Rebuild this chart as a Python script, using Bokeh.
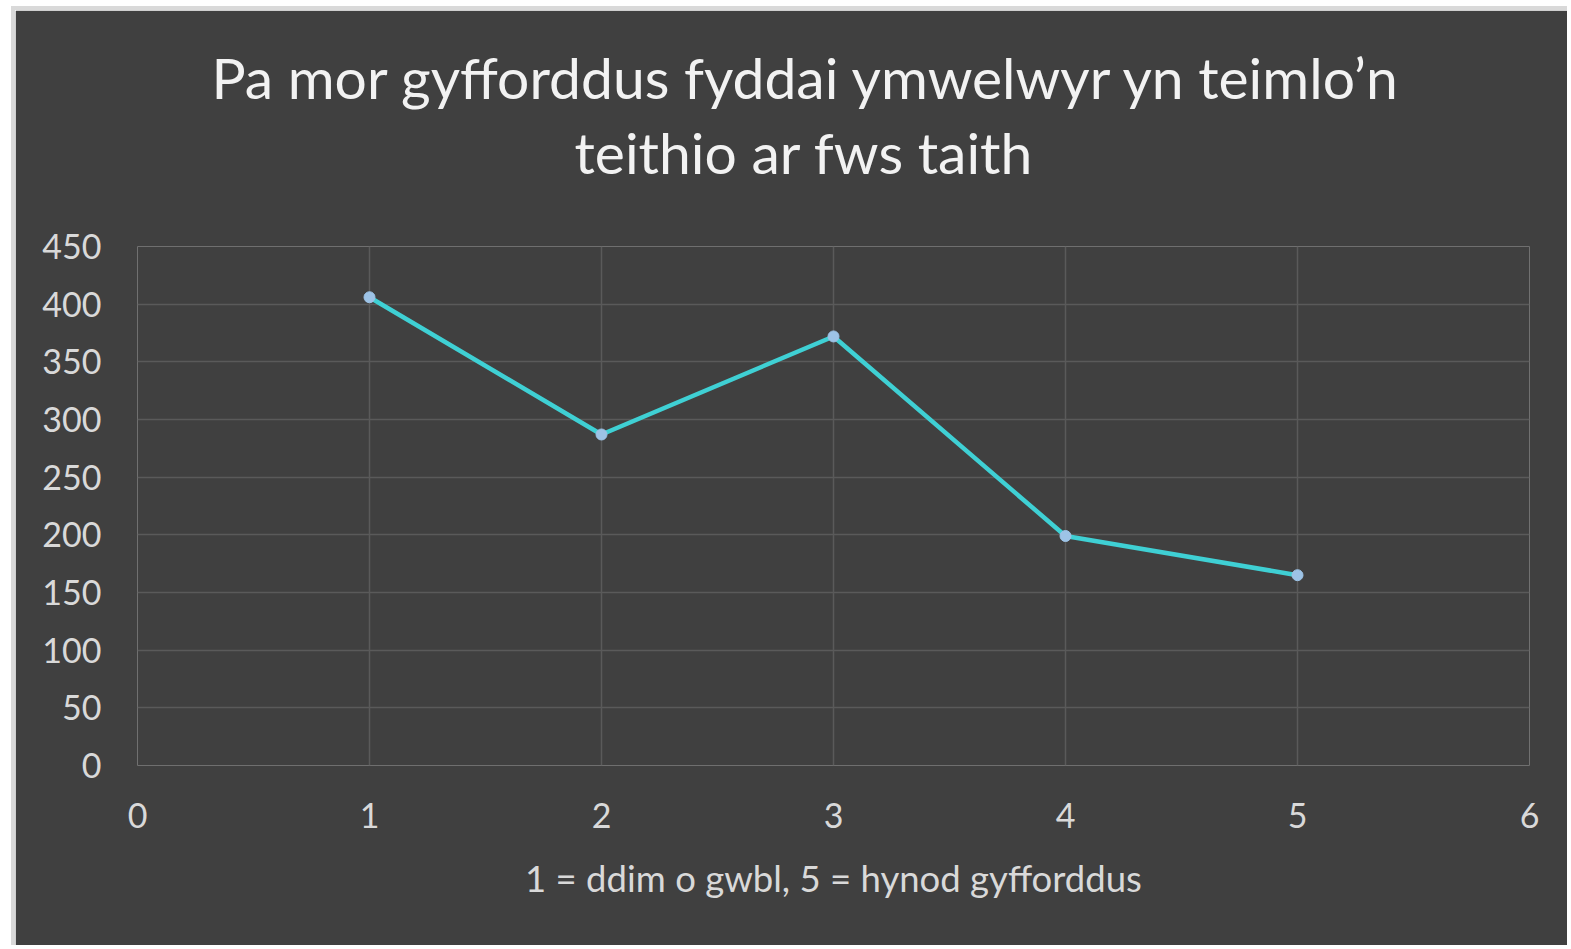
from bokeh.plotting import figure
from bokeh.models import Title, FixedTicker, Range1d
from bokeh.embed import file_html
from bokeh.resources import INLINE

# data
ratings = [1, 2, 3, 4, 5]
counts = [406, 287, 372, 199, 165]
x_ticks = [0, 1, 2, 3, 4, 5, 6]
y_ticks = [0, 50, 100, 150, 200, 250, 300, 350, 400, 450]
title_lines = ["Pa mor gyfforddus fyddai ymwelwyr yn teimlo\u2019n", "teithio ar fws taith"]
x_title = "1 = ddim o gwbl, 5 = hynod gyfforddus"

BG = "#404040"
GRID = "#5a5a5a"
TXT = "#d9d9d9"
FONT = "Lato"

p = figure(width=1556, height=939, output_backend="svg", toolbar_location=None,
           x_range=Range1d(0, 6), y_range=Range1d(0, 450),
           min_border_left=122, min_border_right=42, min_border_top=236, min_border_bottom=184)
p.styles = {"margin-left": "11px", "margin-top": "6px",
            "border-left": "4px solid #d9d9d9", "border-top": "4px solid #d9d9d9"}
p.background_fill_color = BG
p.border_fill_color = BG
p.outline_line_color = None
p.title.visible = False

for ax in (p.xaxis, p.yaxis):
    ax.axis_line_color = None
    ax.major_tick_line_color = None
    ax.minor_tick_line_color = None
    ax.major_label_text_color = TXT
    ax.major_label_text_font = FONT
    ax.major_label_text_font_size = "34px"
p.xaxis.ticker = FixedTicker(ticks=x_ticks)
p.yaxis.ticker = FixedTicker(ticks=y_ticks)
p.xaxis.major_label_standoff = 31
p.yaxis.major_label_standoff = 30

p.xaxis.axis_label = x_title
p.xaxis.axis_label_text_font = FONT
p.xaxis.axis_label_text_font_size = "36.5px"
p.xaxis.axis_label_text_font_style = "normal"
p.xaxis.axis_label_text_color = TXT
p.xaxis.axis_label_standoff = 25

p.xgrid.grid_line_color = GRID
p.ygrid.grid_line_color = GRID
p.xgrid.ticker = FixedTicker(ticks=x_ticks)
p.ygrid.ticker = FixedTicker(ticks=y_ticks)
p.xgrid.grid_line_width = 1.5
p.ygrid.grid_line_width = 1.5

p.line(ratings, counts, line_color="#3fd0d4", line_width=4.5)
p.scatter(ratings, counts, size=11, fill_color="#9dc3e6", line_color="#9dc3e6")

# blank spacer between plot and title, then title line 2, then title line 1
p.add_layout(Title(text="\u00a0", standoff=48, text_font_size="10px"), "above")
for txt, so, off in zip(reversed(title_lines), [0, 10], [437, 74]):
    p.add_layout(Title(text=txt, align="left", offset=off, standoff=so,
                       text_font=FONT, text_font_size="57px", text_font_style="normal",
                       text_color="#f2f2f2"), "above")

open("out.html", "w").write(file_html(p, INLINE))
